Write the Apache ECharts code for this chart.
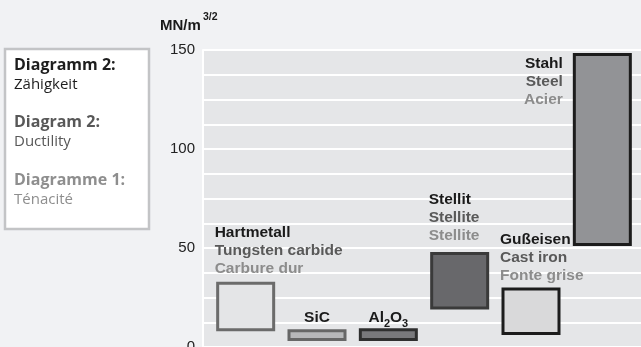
<!DOCTYPE html>
<html>
<head>
<meta charset="utf-8">
<script src="https://cdn.jsdelivr.net/npm/echarts@6/dist/echarts.min.js"></script>
<style>
  html, body { margin: 0; padding: 0; background: #f1f2f4; }
  #chart { width: 641px; height: 347px; }
</style>
</head>
<body>
<div id="chart"></div>
<script>
// Fracture toughness ranges (MN/m^3/2) per material
const categories = ['Hartmetall', 'SiC', 'Al2O3', 'Stellit', 'Gußeisen', 'Stahl'];
const namesEn = ['Tungsten carbide', '', '', 'Stellite', 'Cast iron', 'Steel'];
const namesFr = ['Carbure dur', '', '', 'Stellite', 'Fonte grise', 'Acier'];
const lowValues = [8, 3, 3, 19, 6, 51];
const highValues = [33, 9, 9.5, 48, 30, 148.5];
const yTicks = [0, 50, 100, 150];

const labelFont = 'Liberation Sans, Arial, sans-serif';
const sansFont = 'Open Sans, Noto Sans, sans-serif';
const labelSize = 15.5;

const barStyles = [
  { color: '#e4e5e7', borderColor: '#6b6b6b' },
  { color: '#b7b8ba', borderColor: '#676767' },
  { color: '#79797c', borderColor: '#2f2f2f' },
  { color: '#68686b', borderColor: '#3a3a3a' },
  { color: '#d9d9da', borderColor: '#1c1c1c' },
  { color: '#929396', borderColor: '#1c1c1c' }
];

const richLines = {
  a: { color: '#1a1a1a', fontWeight: 'bold', fontSize: labelSize, fontFamily: labelFont, lineHeight: 18 },
  b: { color: '#595959', fontWeight: 'bold', fontSize: labelSize, fontFamily: labelFont, lineHeight: 18 },
  c: { color: '#8c8c8c', fontWeight: 'bold', fontSize: labelSize, fontFamily: labelFont, lineHeight: 18 },
  n: { color: '#1a1a1a', fontWeight: 'bold', fontSize: labelSize, fontFamily: labelFont, lineHeight: 16, verticalAlign: 'top' },
  s: { color: '#1a1a1a', fontWeight: 'bold', fontSize: 11, fontFamily: labelFont, lineHeight: 28, verticalAlign: 'middle' }
};

function labelText(i) {
  if (categories[i] === 'Al2O3') return '{n|Al}{s|2}{n|O}{s|3}';
  if (!namesEn[i]) return '{a|' + categories[i] + '}';
  return '{a|' + categories[i] + '}\n{b|' + namesEn[i] + '}\n{c|' + namesFr[i] + '}';
}

// label placement for each bar
const labelPlacement = [
  { position: [-1.5, -4], align: 'left', verticalAlign: 'bottom' },
  { position: 'top', distance: 2 },
  { position: 'top', distance: 0, offset: [0, 10] },
  { position: [-1.5, -7], align: 'left', verticalAlign: 'bottom' },
  { position: [-1.5, -3], align: 'left', verticalAlign: 'bottom' },
  { position: [-10, 2], align: 'right', verticalAlign: 'top' }
];

const rangeData = categories.map((c, i) => ({
  value: highValues[i] - lowValues[i],
  itemStyle: Object.assign({ borderWidth: 3 }, barStyles[i]),
  label: Object.assign({
    show: true,
    formatter: labelText(i),
    rich: richLines
  }, labelPlacement[i])
}));

const chart = echarts.init(document.getElementById('chart'), null, { renderer: 'canvas' });

chart.setOption({
  animation: false,
  backgroundColor: '#f1f2f4',
  grid: [
    { left: 203, right: 0, top: 50, bottom: 0, show: true, backgroundColor: '#e5e6e8', borderWidth: 0, containLabel: false, outerBoundsMode: 'none' },
    { left: 210, right: 3, top: 50, bottom: 0, containLabel: false, outerBoundsMode: 'none' }
  ],
  xAxis: [
    { gridIndex: 0, type: 'category', data: categories, show: false },
    { gridIndex: 1, type: 'category', data: categories, show: false }
  ],
  yAxis: [
    {
      gridIndex: 0, type: 'value', min: 0, max: 150, interval: 12.5,
      axisLine: { show: true, lineStyle: { color: '#ffffff', width: 2 } },
      axisTick: { show: false },
      splitLine: { show: true, lineStyle: { color: '#ffffff', width: 2 } },
      axisLabel: {
        margin: 8, color: '#222222', fontSize: 15, fontFamily: labelFont,
        formatter: v => (yTicks.indexOf(v) >= 0 ? String(v) : '')
      }
    },
    { gridIndex: 1, type: 'value', min: 0, max: 150, show: false }
  ],
  graphic: [
    { type: 'text', x: 160, y: 26, style: { text: 'MN/m', fill: '#1a1a1a', font: 'bold 15px ' + labelFont, textVerticalAlign: 'middle' } },
    { type: 'text', x: 203, y: 17, style: { text: '3/2', fill: '#1a1a1a', font: 'bold 10.5px ' + labelFont, textVerticalAlign: 'middle' } },
    {
      type: 'rect',
      shape: { x: 5, y: 49, width: 144, height: 180 },
      style: { fill: '#ffffff', stroke: '#c3c4c6', lineWidth: 2.5 }
    },
    { type: 'text', x: 14, y: 65, style: { text: 'Diagramm 2:', fill: '#1d1d1d', font: 'bold 16px ' + sansFont, textVerticalAlign: 'middle' } },
    { type: 'text', x: 14, y: 85, style: { text: 'Zähigkeit', fill: '#1d1d1d', font: '15px ' + sansFont, textVerticalAlign: 'middle' } },
    { type: 'text', x: 14, y: 122, style: { text: 'Diagram 2:', fill: '#585858', font: 'bold 16px ' + sansFont, textVerticalAlign: 'middle' } },
    { type: 'text', x: 14, y: 142, style: { text: 'Ductility', fill: '#585858', font: '15px ' + sansFont, textVerticalAlign: 'middle' } },
    { type: 'text', x: 14, y: 180, style: { text: 'Diagramme 1:', fill: '#8e8e8e', font: 'bold 16px ' + sansFont, textVerticalAlign: 'middle' } },
    { type: 'text', x: 14, y: 200, style: { text: 'Ténacité', fill: '#8e8e8e', font: '15px ' + sansFont, textVerticalAlign: 'middle' } }
  ],
  series: [
    {
      name: 'base', type: 'bar', stack: 'range', xAxisIndex: 1, yAxisIndex: 1,
      barWidth: 59, silent: true,
      itemStyle: { color: 'transparent' },
      data: lowValues
    },
    {
      name: 'range', type: 'bar', stack: 'range', xAxisIndex: 1, yAxisIndex: 1,
      barWidth: 59,
      data: rangeData
    }
  ]
});
</script>
</body>
</html>
